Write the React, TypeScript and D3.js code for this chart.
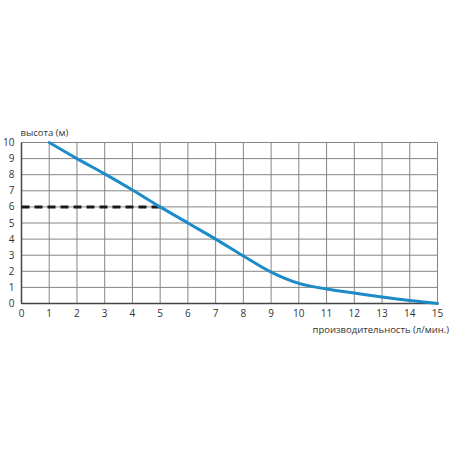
import React from "react";
import * as d3 from "d3";

const flowValues = [1, 2, 3, 4, 5, 6, 7, 8, 9, 10, 11, 12, 13, 14, 15];
const headValues = [10, 9.0, 8.05, 7.05, 6.0, 5.0, 4.0, 2.95, 1.95, 1.25, 0.9, 0.65, 0.4, 0.18, 0];
const xTicks = d3.range(0, 16);
const yTicks = d3.range(0, 11);
const refPoint = { x: 5, y: 6 };
const yTitle = "высота (м)";
const xTitle = "производительность (л/мин.)";

export default function App() {
  const x = d3.scaleLinear().domain([0, 15]).range([21.5, 437.5]);
  const y = d3.scaleLinear().domain([0, 10]).range([303.5, 142.5]);
  const pts = flowValues.map((f, i) => [f, headValues[i]] as [number, number]);
  const line = d3
    .line<[number, number]>()
    .x((d) => x(d[0]))
    .y((d) => y(d[1]))
    .curve(d3.curveCatmullRom.alpha(0.5));
  const font = "'Open Sans', 'DejaVu Sans', sans-serif";
  return (
    <svg
      width={450}
      height={450}
      style={{ position: "absolute", left: 0, top: 0, background: "#fff" }}
    >
      {xTicks.map((t) => (
        <line key={"vx" + t} x1={x(t)} x2={x(t)} y1={y(0)} y2={y(10)} stroke="#858585" strokeWidth={1} />
      ))}
      {yTicks.map((t) => (
        <line key={"hy" + t} x1={x(0)} x2={x(15)} y1={y(t)} y2={y(t)} stroke="#858585" strokeWidth={1} />
      ))}
      <line x1={x(0)} x2={x(0)} y1={y(0)} y2={y(10)} stroke="#444" strokeWidth={1.5} />
      <line x1={x(0)} x2={x(15)} y1={y(0)} y2={y(0)} stroke="#444" strokeWidth={1.5} />
      <line
        x1={x(0)}
        x2={x(refPoint.x)}
        y1={y(refPoint.y)}
        y2={y(refPoint.y)}
        stroke="#1a1a1a"
        strokeWidth={3}
        strokeDasharray="8,5"
      />
      <path d={line(pts) || ""} fill="none" stroke="#1d8bc7" strokeWidth={3} strokeLinecap="round" />
      {xTicks.map((t) => (
        <text key={"tx" + t} x={x(t)} y={317} textAnchor="middle" fontSize={10} fill="#333" fontFamily={font}>
          {t}
        </text>
      ))}
      {yTicks.map((t) => (
        <text key={"ty" + t} x={14.5} y={y(t) + 3.5} textAnchor="end" fontSize={10} fill="#333" fontFamily={font}>
          {t}
        </text>
      ))}
      <text x={20.5} y={136} fontSize={9.5} fill="#333" fontFamily={font}>
        {yTitle}
      </text>
      <text x={449} y={333} textAnchor="end" fontSize={9.5} fill="#333" fontFamily={font}>
        {xTitle}
      </text>
    </svg>
  );
}
